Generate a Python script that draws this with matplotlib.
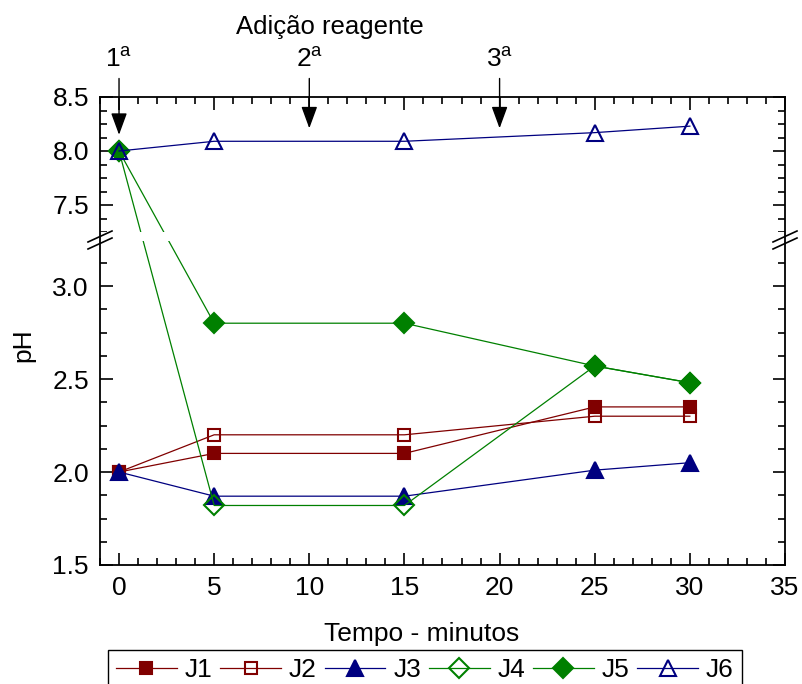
# pH vs time with a broken y-axis (piecewise scale)
import numpy as np
import matplotlib
matplotlib.use('Agg')
import matplotlib.pyplot as plt
from matplotlib.ticker import MultipleLocator, FixedLocator
from matplotlib.patches import Rectangle

plt.rcParams['font.family'] = ['Liberation Sans', 'DejaVu Sans']
plt.rcParams['mathtext.fontset'] = 'custom'
plt.rcParams['mathtext.rm'] = 'Liberation Sans'

tempo = [0, 5, 15, 25, 30]
j1 = [2.0, 2.1, 2.1, 2.35, 2.35]
j2 = [2.0, 2.2, 2.2, 2.30, 2.30]
j3 = [2.0, 1.87, 1.87, 2.01, 2.05]
j4 = [8.0, 1.82, 1.82, 2.57, 2.48]
j5 = [8.0, 2.80, 2.80, 2.57, 2.48]
j6 = [8.0, 8.09, 8.09, 8.17, 8.23]
adicoes = [0, 10, 20]
adicao_labels = ['1', '2', '3']

RED, BLUE, GREEN = '#800000', '#000080', '#008000'
series = [('J1', j1, RED, 's', RED), ('J2', j2, RED, 's', 'none'),
          ('J3', j3, BLUE, '^', BLUE), ('J4', j4, GREEN, 'D', 'none'),
          ('J5', j5, GREEN, 'D', GREEN), ('J6', j6, BLUE, '^', 'none')]
sizes = {'s': 8, '^': 11, 'D': 10}

# broken axis: 1.5-3.242 (186 px/unit) and 7.25-8.5 (108 px/unit)
yk = np.array([-100, 1.5, 3.242, 7.25, 8.5, 100])
tk = np.array([(-101.5) * 186, 0, 324, 333, 468, 468 + 91.5 * 108])
fwd = lambda y: np.interp(y, yk, tk)
inv = lambda t: np.interp(t, tk, yk)

FS = 19
fig = plt.figure(figsize=(8.03, 6.84), dpi=100)
ax = fig.add_axes([100 / 803, 1 - 565 / 684, 685 / 803, 468 / 684])
ax.set_yscale('function', functions=(fwd, inv))

for name, vals, c, m, fc in series:
    ax.plot(tempo, vals, color=c, lw=0.9, marker=m, mfc=fc, mec=c, mew=1.5,
            ms=sizes[m], label=name, zorder=2, clip_on=False)

# white band hiding the lines at the break
ax.add_patch(Rectangle((0, 324 / 468), 1, 9 / 468, transform=ax.transAxes,
                       facecolor='white', edgecolor='none', zorder=2.2))

ax.set_xlim(-1, 35)
ax.set_ylim(1.5, 8.5)
ax.xaxis.set_major_locator(MultipleLocator(5))
ax.xaxis.set_minor_locator(MultipleLocator(1))
ax.yaxis.set_major_locator(FixedLocator([1.5, 2.0, 2.5, 3.0, 7.5, 8.0, 8.5]))
ax.yaxis.set_minor_locator(FixedLocator(list(np.arange(1.5, 3.25, 0.125)) +
                                        list(np.arange(7.25, 8.51, 0.125))))
ax.yaxis.set_major_formatter(matplotlib.ticker.FormatStrFormatter('%.1f'))
ax.tick_params(which='both', direction='in', top=True, right=True, labelsize=FS, width=1.2)
ax.tick_params(which='major', length=9, pad=8)
ax.tick_params(which='minor', length=5)
for sp in ax.spines.values():
    sp.set_linewidth(1.3)

ax.set_xlabel('Tempo - minutos', fontsize=FS)
ax.xaxis.set_label_coords(0.47, -0.122)
ax.set_ylabel('pH', fontsize=FS)
ax.yaxis.set_label_coords(-0.095, 0.47)

# break marks on both spines
for xs in (100, 785):
    for dy in (0, 7):
        fig.add_artist(plt.Line2D([(xs - 12) / 803, (xs + 12) / 803],
                                  [1 - (242 + dy) / 684, 1 - (231 + dy) / 684],
                                  color='black', lw=1.2))

# reagent additions
fig.text(330 / 803, 1 - 27 / 684, 'Adição reagente', ha='center', va='center', fontsize=18.5)
tips = [8.15, 8.21, 8.21]
for x, lab, tip in zip(adicoes, adicao_labels, tips):
    ax.annotate(lab + r'$^{\mathrm{a}}$', xy=(x, tip), xytext=(x, 8.85),
                ha='center', va='center', fontsize=FS, annotation_clip=False,
                arrowprops=dict(arrowstyle='-|>,head_length=0.9,head_width=0.33',
                                mutation_scale=15, color='black', lw=1.0,
                                shrinkA=3, shrinkB=0))

fig.legend(loc='upper left', bbox_to_anchor=(108 / 803, 1 - 650 / 684), ncol=6,
           fontsize=FS, frameon=True, fancybox=False, edgecolor='black',
           handlelength=2.3, handletextpad=0.3, columnspacing=0.3,
           borderaxespad=0, borderpad=0.3, numpoints=1, framealpha=1)

fig.savefig('out.png', dpi=100, facecolor='white')
